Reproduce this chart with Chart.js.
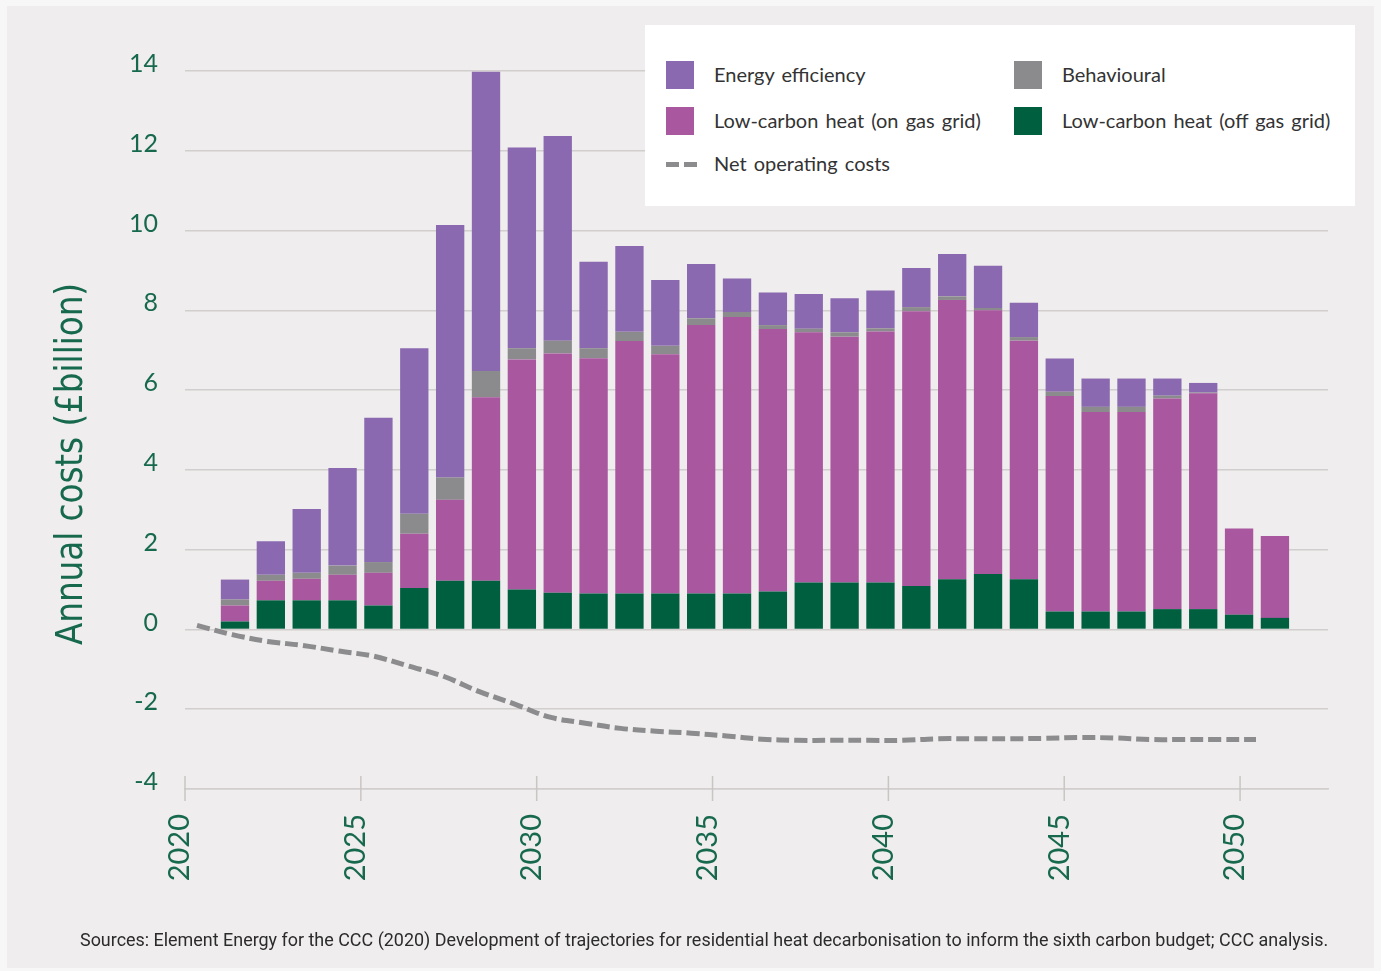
<!DOCTYPE html>
<html>
<head>
<meta charset="utf-8">
<script src="https://cdn.jsdelivr.net/npm/chart.js@4.4.1/dist/chart.umd.min.js"></script>
<style>
    html, body { margin: 0; padding: 0; background: #f7f7f7; }
    #wrap { position: relative; width: 1381px; height: 971px; overflow: hidden; }
    #panel { position: absolute; left: 7px; top: 6px; width: 1367px; height: 962px; background: #efeded; }
    #chart { position: absolute; left: 0; top: 0; }
    #legend { position: absolute; left: 645px; top: 25px; width: 710px; height: 181px; background: #ffffff; }
    .item { position: absolute; font: 20px Lato, "Open Sans", sans-serif; word-spacing: 2px; color: #333333; line-height: 28px; white-space: nowrap; }
    .sw { position: absolute; width: 28px; height: 28px; }
    .dash { position: absolute; width: 13px; height: 5px; background: #8c8c8e; }
    #sources { position: absolute; left: 80px; top: 928px; font: 19px Roboto, "Liberation Sans", sans-serif; color: #2b2b2b; white-space: nowrap; transform-origin: 0 0; }
</style>
</head>
<body>
<div id="wrap">
    <div id="panel"></div>
    <canvas id="chart" width="1381" height="971"></canvas>
    <div id="legend"></div>
    <div id="sources">Sources: Element Energy for the CCC (2020) Development of trajectories for residential heat decarbonisation to inform the sixth carbon budget; CCC analysis.</div>
</div>
<script>
// --- VERİ ---
const barYears = [2021, 2022, 2023, 2024, 2025, 2026, 2027, 2028, 2029, 2030,
    2031, 2032, 2033, 2034, 2035, 2036, 2037, 2038, 2039, 2040,
    2041, 2042, 2043, 2044, 2045, 2046, 2047, 2048, 2049, 2050];

// £bn, alttan üste doğru
const offGrid = [0.20, 0.73, 0.73, 0.73, 0.60, 1.04, 1.22, 1.22, 1.00, 0.92,
    0.90, 0.90, 0.90, 0.90, 0.90, 0.95, 1.18, 1.18, 1.18, 1.09,
    1.26, 1.39, 1.26, 0.45, 0.45, 0.45, 0.51, 0.51, 0.37, 0.29];
const onGrid = [0.40, 0.49, 0.54, 0.64, 0.82, 1.36, 2.03, 4.60, 5.77, 6.00,
    5.90, 6.33, 6.00, 6.73, 6.93, 6.58, 6.27, 6.16, 6.29, 6.89,
    7.00, 6.61, 5.98, 5.40, 5.00, 5.00, 5.28, 5.41, 2.16, 2.05];
const behavioural = [0.15, 0.15, 0.15, 0.23, 0.27, 0.50, 0.56, 0.66, 0.28, 0.32,
    0.25, 0.23, 0.21, 0.17, 0.13, 0.10, 0.09, 0.11, 0.08, 0.10,
    0.09, 0.06, 0.09, 0.11, 0.13, 0.13, 0.07, 0.02, 0.00, 0.00];
const efficiency = [0.50, 0.84, 1.60, 2.45, 3.62, 4.15, 6.33, 7.50, 5.03, 5.13,
    2.17, 2.15, 1.65, 1.36, 0.84, 0.82, 0.87, 0.85, 0.95, 0.98,
    1.06, 1.06, 0.86, 0.83, 0.71, 0.71, 0.43, 0.24, 0.00, 0.00];

const lineYears = [2020, 2021, 2022, 2023, 2024, 2025, 2026, 2027, 2028, 2029, 2030,
    2031, 2032, 2033, 2034, 2035, 2036, 2037, 2038, 2039, 2040,
    2041, 2042, 2043, 2044, 2045, 2046, 2047, 2048, 2049, 2050];
const netOperating = [0.10, -0.13, -0.30, -0.40, -0.54, -0.67, -0.92, -1.18, -1.56, -1.87, -2.20,
    -2.35, -2.48, -2.55, -2.60, -2.67, -2.75, -2.78, -2.78, -2.78, -2.78,
    -2.74, -2.74, -2.74, -2.73, -2.71, -2.72, -2.76, -2.76, -2.76, -2.76];

const yearTicks = [2020, 2025, 2030, 2035, 2040, 2045, 2050];
const valueTicks = [-4, -2, 0, 2, 4, 6, 8, 10, 12, 14];

// --- RENKLER ---
const GREEN_TEXT = '#17694d';
const colors = {
    efficiency: '#8a69b0',
    behavioural: '#8b8b8d',
    onGrid: '#a9579f',
    offGrid: '#005f3f',
    line: '#8c8c8e',
    grid: '#d2cece'
};

const legendItems = [
    { label: 'Energy efficiency', color: colors.efficiency, col: 0, row: 0 },
    { label: 'Behavioural', color: colors.behavioural, col: 1, row: 0 },
    { label: 'Low-carbon heat (on gas grid)', color: colors.onGrid, col: 0, row: 1 },
    { label: 'Low-carbon heat (off gas grid)', color: colors.offGrid, col: 1, row: 1 },
    { label: 'Net operating costs', dashed: true, col: 0, row: 2 }
];

// HTML lejant
const legendEl = document.getElementById('legend');
const colX = [21, 369];
const rowY = [36, 82, 125];
legendItems.forEach(it => {
    const x = colX[it.col], y = rowY[it.row];
    if (it.dashed) {
        [0, 18].forEach(dx => {
            const d = document.createElement('div');
            d.className = 'dash';
            d.style.left = (x + dx) + 'px';
            d.style.top = (y + 12) + 'px';
            legendEl.appendChild(d);
        });
    } else {
        const s = document.createElement('div');
        s.className = 'sw';
        s.style.left = x + 'px';
        s.style.top = y + 'px';
        s.style.background = it.color;
        legendEl.appendChild(s);
    }
    const t = document.createElement('div');
    t.className = 'item';
    t.style.left = (x + 48) + 'px';
    t.style.top = (y - 1) + 'px';
    t.textContent = it.label;
    legendEl.appendChild(t);
});

// Kaynak satırı dar bir yazı tipinde: genişliğe sığdır
const src = document.getElementById('sources');
src.style.transform = 'scaleX(' + (1248 / src.scrollWidth) + ')';

const toPoints = (xs, ys) => xs.map((x, i) => ({ x: x, y: ys[i] }));

// x ekseni tik çizgileri + dikey eksen başlığı
const decorPlugin = {
    id: 'decor',
    afterDraw(chart) {
        const ctx = chart.ctx;
        const sx = chart.scales.x;
        const bottom = chart.chartArea.bottom;
        ctx.save();
        ctx.strokeStyle = '#c9c5c5';
        ctx.lineWidth = 1.5;
        yearTicks.forEach(v => {
            const px = sx.getPixelForValue(v);
            ctx.beginPath();
            ctx.moveTo(px, bottom - 13);
            ctx.lineTo(px, bottom + 12);
            ctx.stroke();
        });
        ctx.translate(72, 464);
        ctx.rotate(-Math.PI / 2);
        ctx.fillStyle = GREEN_TEXT;
        ctx.font = '37px "Liberation Sans Narrow", "DejaVu Sans Condensed", sans-serif';
        ctx.textAlign = 'center';
        ctx.textBaseline = 'middle';
        ctx.fillText('Annual costs (£billion)', 0, 0, 362);
        ctx.restore();
    }
};

const barDataset = (label, data, color) => ({
    type: 'bar',
    label: label,
    data: toPoints(barYears, data),
    backgroundColor: color,
    borderWidth: 0,
    xAxisID: 'xBar',
    yAxisID: 'y',
    grouped: false,
    barPercentage: 0.79,
    categoryPercentage: 1,
    order: 1
});

new Chart(document.getElementById('chart'), {
    type: 'bar',
    data: {
        datasets: [
            barDataset('Low-carbon heat (off gas grid)', offGrid, colors.offGrid),
            barDataset('Low-carbon heat (on gas grid)', onGrid, colors.onGrid),
            barDataset('Behavioural', behavioural, colors.behavioural),
            barDataset('Energy efficiency', efficiency, colors.efficiency),
            {
                type: 'line',
                label: 'Net operating costs',
                data: toPoints(lineYears, netOperating),
                borderColor: colors.line,
                borderWidth: 5,
                borderDash: [13, 5],
                pointRadius: 0,
                tension: 0.35,
                fill: false,
                xAxisID: 'xLine',
                yAxisID: 'y',
                order: 0
            }
        ]
    },
    options: {
        responsive: false,
        animation: false,
        layout: { padding: { top: 71, right: 53, left: 0, bottom: 0 } },
        plugins: {
            legend: { display: false },
            tooltip: { enabled: false }
        },
        scales: {
            x: {
                type: 'linear',
                position: 'bottom',
                min: 2020,
                max: 2052.5,
                offset: false,
                afterFit: (scale) => { scale.height = 182; },
                afterBuildTicks: (scale) => { scale.ticks = yearTicks.map(v => ({ value: v })); },
                grid: { display: false, drawTicks: false },
                border: { display: true, color: colors.grid, width: 1.5 },
                ticks: {
                    color: GREEN_TEXT,
                    font: { family: 'Lato', size: 29 },
                    minRotation: 90,
                    maxRotation: 90,
                    padding: 25,
                    labelOffset: -5,
                    autoSkip: false,
                    callback: (v) => String(v)
                }
            },
            xBar: {
                type: 'linear',
                display: false,
                stacked: true,
                offset: false,
                min: 2019.606,
                max: 2051.48,
                afterBuildTicks: (scale) => { scale.ticks = barYears.map(v => ({ value: v })); }
            },
            xLine: {
                type: 'linear',
                display: false,
                offset: false,
                min: 2019.66,
                max: 2052.04
            },
            y: {
                type: 'linear',
                stacked: true,
                min: -4,
                max: 14,
                afterFit: (scale) => { scale.width = 185; },
                afterBuildTicks: (scale) => { scale.ticks = valueTicks.map(v => ({ value: v })); },
                grid: { color: colors.grid, lineWidth: 1.5, drawTicks: false },
                border: { display: false },
                ticks: {
                    color: GREEN_TEXT,
                    font: { family: 'Lato', size: 25 },
                    padding: 27,
                    labelOffset: -7
                }
            }
        }
    },
    plugins: [decorPlugin]
});
</script>
</body>
</html>
